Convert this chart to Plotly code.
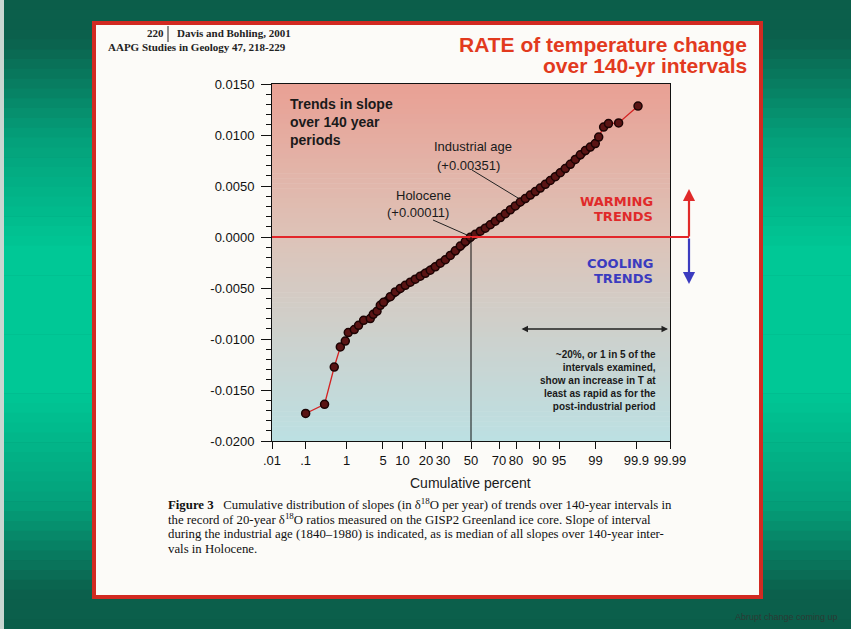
"""Rate of temperature change over 140-yr intervals (Davis and Bohling, 2001)."""

from statistics import NormalDist

import plotly.graph_objects as go

W, H = 851, 629

# cumulative percent of 140-yr intervals and their slope (d18O per year)
cum_percent = [
    0.10, 0.31, 0.53, 0.73, 0.94, 1.09, 1.46, 1.78, 2.24, 2.99,
    3.39, 3.95, 4.50, 5.11, 6.58, 7.85, 9.32, 10.97, 12.84, 14.89,
    17.16, 19.65, 22.33, 25.24, 28.30, 31.56, 34.94, 38.47, 42.07, 45.74,
    49.48, 53.19, 56.91, 60.53, 64.09, 67.51, 70.82, 73.92, 76.88, 79.62,
    82.15, 84.50, 86.61, 88.53, 90.23, 91.76, 93.08, 94.25, 95.24, 96.10,
    96.83, 97.44, 97.95, 98.37, 98.71, 98.99, 99.15, 99.34, 99.49, 99.71,
    99.91,
]
slope = [
    -0.0173, -0.0164, -0.01275, -0.01078, -0.0102, -0.00937, -0.00908, -0.00866, -0.00817, -0.0080,
    -0.00758, -0.00728, -0.0067, -0.0064, -0.00585, -0.00539, -0.00504, -0.00474, -0.00443, -0.00413,
    -0.00384, -0.00356, -0.00326, -0.00292, -0.00257, -0.00223, -0.00181, -0.00135, -0.00089, -0.00045,
    -0.00003, 0.00027, 0.00057, 0.00086, 0.0012, 0.00155, 0.00191, 0.00228, 0.00267, 0.00305,
    0.00343, 0.00377, 0.00411, 0.00445, 0.0048, 0.00517, 0.00554, 0.00591, 0.0063, 0.00671,
    0.00713, 0.0076, 0.00806, 0.00847, 0.00882, 0.00916, 0.0098, 0.01078, 0.01112, 0.01118,
    0.01284,
]

x_tick_percent = [0.01, 0.1, 1, 5, 10, 20, 30, 50, 70, 80, 90, 95, 99, 99.9, 99.99]
x_tick_labels = [".01", ".1", "1", "5", "10", "20", "30", "50", "70", "80", "90", "95", "99", "99.9", "99.99"]
y_tick_values = [-0.02, -0.015, -0.01, -0.005, 0.0, 0.005, 0.01, 0.015]
y_tick_labels = ["-0.0200", "-0.0150", "-0.0100", "-0.0050", "0.0000", "0.0050", "0.0100", "0.0150"]

holocene_median = 0.00011
industrial_slope = 0.00351

SANS = "Liberation Sans, Arial, sans-serif"
SERIF = "Liberation Serif, Times New Roman, serif"
HEAVY = "DejaVu Sans, Verdana, sans-serif"

norm = NormalDist()


def zpos(p):
    """Percent -> normal-probability axis position."""
    return norm.inv_cdf(p / 100.0)


def px(x):
    return x / W


def py(y):
    return 1 - y / H


def blend(stops, t):
    for (t0, c0), (t1, c1) in zip(stops, stops[1:]):
        if t0 <= t <= t1:
            f = (t - t0) / (t1 - t0) if t1 > t0 else 0
            r, g, b = (round(a + (bb - a) * f) for a, bb in zip(c0, c1))
            return f"rgb({r},{g},{b})"
    r, g, b = stops[-1][1]
    return f"rgb({r},{g},{b})"


shapes = []

# slide background: dark green top/bottom, bright teal in the middle
slide_stops = [
    (0.0, (11, 94, 74)), (0.06, (11, 96, 76)), (0.22, (4, 160, 122)),
    (0.4, (0, 200, 150)), (0.62, (0, 200, 150)), (0.8, (4, 160, 122)),
    (0.94, (11, 96, 76)), (1.0, (11, 94, 74)),
]
n_slide = 64
for i in range(n_slide):
    y0, y1 = i * H / n_slide, (i + 1) * H / n_slide + 0.6
    shapes.append(dict(type="rect", xref="paper", yref="paper", x0=0, x1=1,
                       y0=py(y1), y1=py(y0), line_width=0, layer="below",
                       fillcolor=blend(slide_stops, (i + 0.5) / n_slide)))
shapes.append(dict(type="rect", xref="paper", yref="paper", x0=0, x1=px(4),
                   y0=0, y1=1, line_width=0, layer="below", fillcolor="#c9d6d1"))

# white page with red frame
shapes.append(dict(type="rect", xref="paper", yref="paper", x0=px(94), x1=px(761),
                   y0=py(597), y1=py(23), layer="below", fillcolor="#fcfbf8",
                   line=dict(color="#d22a22", width=4)))

# plot background: salmon at top fading to pale blue at bottom
plot_stops = [(0.0, (233, 160, 148)), (0.43, (221, 195, 184)), (1.0, (188, 224, 227))]
n_plot = 72
top, bot = 84, 441
for i in range(n_plot):
    y0 = top + i * (bot - top) / n_plot
    y1 = top + (i + 1) * (bot - top) / n_plot + 0.6
    shapes.append(dict(type="rect", xref="paper", yref="paper", x0=px(272), x1=px(670),
                       y0=py(min(y1, bot)), y1=py(y0), line_width=0, layer="below",
                       fillcolor=blend(plot_stops, (i + 0.5) / n_plot)))

# zero line, median line and pointer lines
shapes += [
    dict(type="line", xref="paper", yref="y", x0=px(272), x1=px(689), y0=0, y1=0,
         line=dict(color="#e3262a", width=2)),
    dict(type="line", xref="x", yref="y", x0=zpos(50), x1=zpos(50), y0=-0.02, y1=0,
         line=dict(color="#111", width=1)),
    dict(type="line", xref="paper", yref="paper", x0=px(472), y0=py(170), x1=px(518), y1=py(198),
         line=dict(color="#222", width=1)),
    dict(type="line", xref="paper", yref="paper", x0=px(433), y0=py(220), x1=px(467), y1=py(235),
         line=dict(color="#222", width=1)),
    dict(type="line", xref="paper", yref="paper", x0=px(168), y0=py(26), x1=px(168), y1=py(42),
         line=dict(color="#222", width=1)),
]


def label(text, x, y, size, color="#1a1a1a", family=SANS, xanchor="center", align="center"):
    return dict(text=text, x=px(x), y=py(y), xref="paper", yref="paper", showarrow=False,
                xanchor=xanchor, yanchor="middle", align=align,
                font=dict(family=family, size=size, color=color))


annotations = [
    label("<b>220</b>", 155, 33, 11, "#222", SERIF),
    label("<b>Davis and Bohling, 2001</b>", 175, 33, 11, "#222", SERIF, "left"),
    label("<b>AAPG Studies in Geology 47, 218-229</b>", 106, 47, 11, "#222", SERIF, "left"),
    label("<b>RATE of temperature change</b>", 749, 44, 21, "#e23a1e", SANS, "right"),
    label("<b>over 140-yr intervals</b>", 749, 65, 21, "#e23a1e", SANS, "right"),
    label("<b>Trends in slope<br>over 140 year<br>periods</b>", 288, 122, 14, "#1a1a1a", SANS, "left", "left"),
    label("Industrial age", 473, 147, 13),
    label(f"(+{industrial_slope:.5f})", 468, 165, 13),
    label("Holocene", 423, 195, 13),
    label(f"(+{holocene_median:.5f})", 418, 212, 13),
    label("<b>WARMING</b>", 655, 201, 13, "#e02a2a", HEAVY, "right"),
    label("<b>TRENDS</b>", 655, 217, 13, "#e02a2a", HEAVY, "right"),
    label("<b>COOLING</b>", 655, 263, 13, "#3b3bbf", HEAVY, "right"),
    label("<b>TRENDS</b>", 655, 279, 13, "#3b3bbf", HEAVY, "right"),
    label("<b>~20%, or 1 in 5 of the<br>intervals examined,<br>show an increase in T at<br>"
          "least as rapid as for the<br>post-industrial period</b>",
          658, 381, 10, "#1a1a1a", SANS, "right", "right"),
    label("Cumulative percent", 470, 483, 14),
    label("Abrupt change coming up", 840, 617, 9, "#2a3a34", SANS, "right"),
]

caption = [
    "<b>Figure 3</b>   Cumulative distribution of slopes (in δ<sup>18</sup>O per year) of trends over 140-year intervals in",
    "the record of 20-year δ<sup>18</sup>O ratios measured on the GISP2 Greenland ice core. Slope of interval",
    "during the industrial age (1840–1980) is indicated, as is median of all slopes over 140-year inter-",
    "vals in Holocene.",
]
for i, line in enumerate(caption):
    annotations.append(label(line, 166, 504 + i * 15, 12.8, "#111", SERIF, "left", "left"))

# warming / cooling arrows and the ~20% span arrow
annotations += [
    dict(x=px(689), y=py(189), xref="paper", yref="paper", ax=0, ay=49, text="",
         showarrow=True, arrowhead=2, arrowsize=1.1, arrowwidth=2.2, arrowcolor="#e02a2a"),
    dict(x=px(689), y=py(284), xref="paper", yref="paper", ax=0, ay=-47, text="",
         showarrow=True, arrowhead=2, arrowsize=1.1, arrowwidth=2.2, arrowcolor="#3b3bbf"),
    dict(x=px(668), y=py(329), xref="paper", yref="paper", ax=-148, ay=0, text="",
         showarrow=True, arrowhead=2, startarrowhead=2, arrowside="end+start",
         arrowsize=1, arrowwidth=1.3, arrowcolor="#222"),
]

# the dense middle of the distribution forms a solid dark band in the original
band = [(p, s) for p, s in zip(cum_percent, slope) if 5 <= p <= 99]

fig = go.Figure()
fig.add_trace(
    go.Scatter(
        x=[zpos(p) for p, _ in band],
        y=[s for _, s in band],
        mode="lines",
        line=dict(color="#1c0606", width=7),
        hoverinfo="skip",
    )
)
fig.add_trace(
    go.Scatter(
        x=[zpos(p) for p in cum_percent],
        y=slope,
        mode="lines+markers",
        line=dict(color="#d42222", width=1.3),
        marker=dict(size=8, color="#5a1414", line=dict(color="#1c0404", width=1.5)),
        hovertemplate="%{customdata}%%: %{y:.5f}<extra></extra>",
        customdata=cum_percent,
    )
)

fig.update_layout(
    width=W,
    height=H,
    margin=dict(l=0, r=0, t=0, b=0, autoexpand=False),
    paper_bgcolor="#0b5e4a",
    plot_bgcolor="rgba(0,0,0,0)",
    showlegend=False,
    shapes=shapes,
    annotations=annotations,
    xaxis=dict(
        domain=[px(272), px(670)],
        range=[zpos(0.01), zpos(99.99)],
        tickmode="array",
        tickvals=[zpos(p) for p in x_tick_percent],
        ticktext=x_tick_labels,
        ticks="outside", ticklen=7, tickcolor="#111",
        showline=True, linecolor="#111", linewidth=1, mirror=True,
        showgrid=False, zeroline=False, automargin=False,
        tickfont=dict(family=SANS, size=13, color="#111"),
    ),
    yaxis=dict(
        domain=[py(441), py(84)],
        range=[-0.02, 0.015],
        tickmode="array",
        tickvals=y_tick_values,
        ticktext=y_tick_labels,
        ticks="outside", ticklen=10, tickcolor="#111",
        minor=dict(ticks="outside", ticklen=5, dtick=0.001, tick0=0, tickcolor="#111"),
        ticklabelstandoff=4,
        showline=True, linecolor="#111", linewidth=1, mirror=True,
        showgrid=False, zeroline=False, automargin=False,
        tickfont=dict(family=SANS, size=13, color="#111"),
    ),
)

fig.write_html(
    "out.html",
    config={"displayModeBar": False},
    post_script="document.body.style.margin='0';document.body.style.overflow='hidden';",
)
